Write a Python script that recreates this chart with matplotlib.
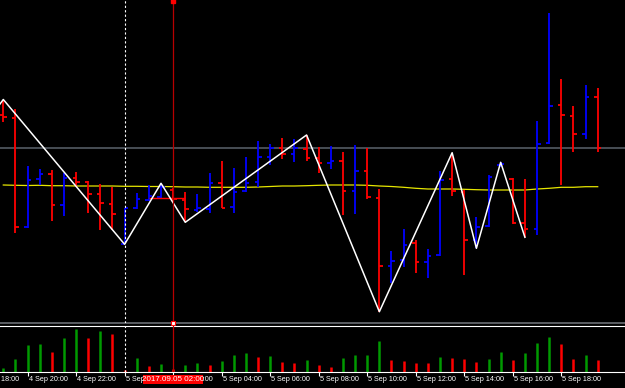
import numpy as np
import matplotlib.pyplot as plt
from matplotlib.transforms import blended_transform_factory
from matplotlib.patches import Rectangle

# M30 bars, 4 Sep 19:00 .. 5 Sep 19:30 (price in chart points)
bar_open = [207, 204.3, 94.7, 142.7, 148, 117, 144.3, 140, 127.7, 118,
            78, 114.3, 122, 125, 132.5, 122, 112, 112.7, 139.3, 115.3,
            131, 140.3, 165.3, 174.3, 167.7, 173, 164.3, 158.7, 161.3, 131.3,
            151.3, 123.7, 56, 62, 78.7, 60, 66.7, 143.3, 130.5, 82,
            96, 157, 143, 99.5, 93.3, 179.3, 217, 206.3, 188, 225.3]
bar_high = [222.5, 212.7, 156, 152.7, 152, 149.3, 150, 141.3, 138, 135.3,
            114.5, 129.3, 137, 138.7, 134, 130.3, 128, 148.7, 161, 153.7,
            164.7, 181, 177.7, 183.7, 182.7, 187, 174.7, 176.3, 170.3, 177,
            173.7, 133, 71, 92.7, 82, 72.7, 151.3, 169.3, 131.7, 104.7,
            147, 159.7, 143.7, 143, 201.3, 308.7, 243, 216, 237, 233.7]
bar_low = [200, 88.7, 94, 137, 101.3, 106, 135.3, 109.3, 92, 92,
           77.7, 112.7, 121.3, 124.5, 119, 99.7, 110, 108.7, 113.7, 109.3,
           130.3, 134.7, 157, 163, 160.3, 161, 149.3, 153, 107, 107.7,
           122.7, 10.3, 38.7, 54.7, 49.3, 43.7, 66, 126, 47, 73.7,
           95.3, 155, 98, 84.7, 87, 178, 137, 170.3, 182.7, 170.3]
bar_close = [205, 94.7, 142, 148, 117, 143.7, 140.3, 128, 118.7, 108,
             114.3, 123, 126, 135, 123, 113, 114, 139.3, 114.3, 130.3,
             139.3, 164.7, 173.7, 167.7, 173.7, 163.7, 158.7, 161.3, 131.3, 151.3,
             124.7, 56, 61.3, 77, 60, 66, 142, 131, 82, 95.3,
             145, 158, 99.5, 93.3, 178, 216, 207, 188, 225.3, 173.7]
tick_volume = [37, 127, 270, 280, 200, 340, 430, 340, 410, 383,
               23, 137, 60, 83, 33, 73, 90, 73, 110, 167,
               190, 153, 160, 100, 93, 120, 73, 53, 143, 173,
               175, 310, 120, 110, 93, 92, 150, 137, 130, 100,
               133, 200, 120, 193, 293, 353, 280, 130, 173, 120]
ma_values = [137, 136.7, 136.5, 136.7, 136.3, 136.3, 136, 136, 136, 136,
             135.7, 135.7, 135.5, 135.5, 135.3, 135, 135, 134.7, 134.7, 134.7,
             134.7, 135, 135.5, 136, 136, 136.3, 136.7, 137, 137, 137,
             136.7, 136, 135.5, 134.7, 133.7, 133, 133, 133, 132.7, 132.3,
             132, 132, 132, 132, 133, 133.7, 134.7, 134.7, 135.3, 135.3]

# zigzag turning points (bar index, price)
zigzag_bars = [-1, 0, 10, 13, 15, 25, 31, 37, 39, 41, 43]
zigzag_prices = [206, 222.5, 77.7, 138.7, 99.7, 187, 10.3, 169.3, 73.7, 159.7, 84.7]

hline_level = 173.7
red_segment = (12, 15, 124.3)
dashed_bar = 10
cursor_bar = 14
cursor_label = '2017.09.05 02:00'

time_ticks = [-2, 2, 6, 10, 14, 18, 22, 26, 30, 34, 38, 42, 46]
time_labels = ['4 Sep 18:00', '4 Sep 20:00', '4 Sep 22:00', '5 Sep 00:00', '5 Sep 02:00',
               '5 Sep 04:00', '5 Sep 06:00', '5 Sep 08:00', '5 Sep 10:00', '5 Sep 12:00',
               '5 Sep 14:00', '5 Sep 16:00', '5 Sep 18:00']

label_font = 'Liberation Sans'

o = np.array(bar_open)
h = np.array(bar_high)
l = np.array(bar_low)
c = np.array(bar_close)
vol = np.array(tick_volume)
idx = np.arange(len(o))
bar_col = np.where(c > o, '#0000ff', '#ff0000')
prev = np.concatenate([[0], vol[:-1]])
vol_col = np.where(vol > prev, '#009a00', '#ff0000')

fig = plt.figure(figsize=(6.25, 3.88), dpi=100, facecolor='black')
ax = fig.add_axes([0, 65 / 388, 1, 323 / 388], facecolor='black')
vax = fig.add_axes([0, 16 / 388, 1, 46.5 / 388], facecolor='black', sharex=ax)

ax.set_xlim(-0.272, 51.25)
ax.set_ylim(-1, 322)
vax.set_ylim(0, 465)

for a in (ax, vax):
    for s in a.spines.values():
        s.set_visible(False)
    a.set_yticks([])
ax.tick_params(bottom=False, labelbottom=False)
ax.spines['bottom'].set_visible(True)
ax.spines['bottom'].set_color('#6a6e74')
ax.spines['bottom'].set_linewidth(1.2)
vax.spines['bottom'].set_visible(True)
vax.spines['bottom'].set_color('white')
vax.spines['top'].set_visible(True)
vax.spines['top'].set_color('white')

# lines behind the bars
ax.axhline(hline_level, color='#474e55', lw=1.4, zorder=1)
ax.plot(idx, ma_values, color='#e6e600', lw=0.9, zorder=1.5)

ax.vlines(idx, l, h, colors=bar_col, lw=1.3, zorder=2)
ax.hlines(o, idx - 0.29, idx, colors=bar_col, lw=1.3, zorder=2)
ax.hlines(c, idx, idx + 0.29, colors=bar_col, lw=1.3, zorder=2)

ax.hlines(red_segment[2], red_segment[0], red_segment[1], colors='#ff0000', lw=1.0, zorder=2)
ax.plot(zigzag_bars, zigzag_prices, color='white', lw=1.1, zorder=3)

for a in (ax, vax):
    a.axvline(dashed_bar, color='white', lw=0.8, ls=(0, (2, 2)), zorder=4)
    a.axvline(cursor_bar, color='#b80000', lw=0.9, zorder=4)
ax.plot(cursor_bar, 321, 's', ms=2.5, color='#ff0000', clip_on=False, zorder=5)
ax.plot(cursor_bar, -1, 's', ms=3, mfc='white', mec='#ff0000', mew=0.8, clip_on=False, zorder=5)

vax.vlines(idx, 0, vol, colors=vol_col, lw=1.8)

# time scale
vax.set_xticks([t for t in time_ticks if t >= 0])
vax.tick_params(axis='x', colors='white', length=3, width=0.8, labelbottom=False)
lab_tr = blended_transform_factory(vax.transData, fig.transFigure)
for t, s in zip(time_ticks, time_labels):
    vax.text(t + 0.08, 8.5 / 388, s, transform=lab_tr, ha='left', va='center',
             color='white', fontsize=5.2, family=label_font, clip_on=False)

vax.add_patch(Rectangle((cursor_bar - 2.47, 4 / 388), 4.94, 8.7 / 388, transform=lab_tr,
                        facecolor='#ff0000', edgecolor='none', clip_on=False, zorder=6))
vax.text(cursor_bar, 8.4 / 388, cursor_label, transform=lab_tr, ha='center', va='center',
         color='white', fontsize=5.8, family=label_font, clip_on=False, zorder=7)

plt.savefig('out.png', dpi=100, facecolor='black')
